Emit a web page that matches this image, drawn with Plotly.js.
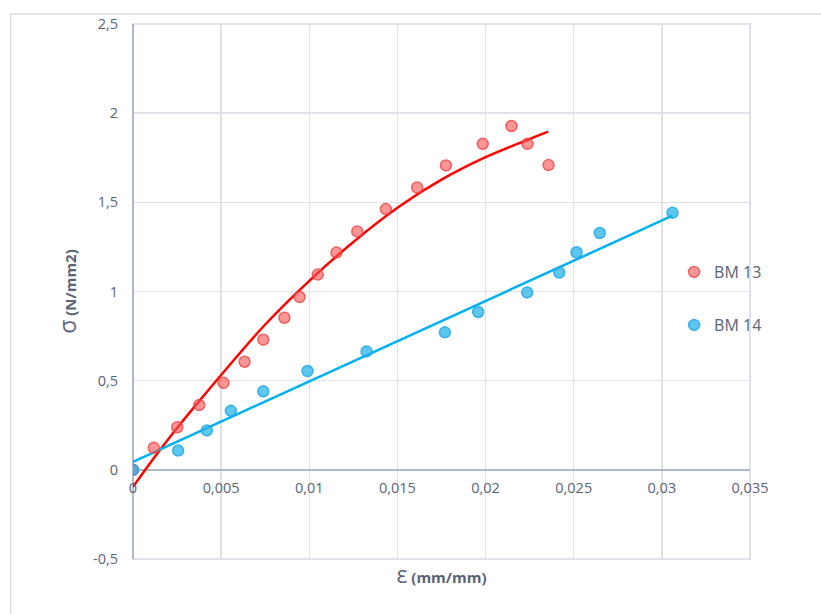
<!DOCTYPE html>
<html>
<head>
<meta charset="utf-8">
<script src="https://cdn.plot.ly/plotly-3.0.1.min.js"></script>
<style>html,body{margin:0;padding:0;background:#fff}#chart{width:821px;height:614px}</style>
</head>
<body>
<div id="chart"></div>
<script>
// BM 13 measured points
const bm13X = [0, 0.00118, 0.00251, 0.00376, 0.00513, 0.00633, 0.00739, 0.00859, 0.00945, 0.01048, 0.01154, 0.01272, 0.01434, 0.01612, 0.01775, 0.01984, 0.02147, 0.02238, 0.02357];
const bm13Y = [0, 0.124, 0.239, 0.363, 0.488, 0.606, 0.730, 0.853, 0.969, 1.095, 1.218, 1.337, 1.462, 1.583, 1.707, 1.828, 1.928, 1.828, 1.709];
// BM 14 measured points
const bm14X = [0, 0.00256, 0.00419, 0.00555, 0.00739, 0.00990, 0.01325, 0.01769, 0.01958, 0.02236, 0.02418, 0.02516, 0.02648, 0.03060];
const bm14Y = [0, 0.108, 0.221, 0.331, 0.440, 0.554, 0.664, 0.771, 0.885, 0.995, 1.106, 1.220, 1.328, 1.441];
// BM 13 trend curve
const trend13X = [0, 0.00125, 0.0025, 0.00375, 0.005, 0.0075, 0.01, 0.0125, 0.015, 0.0175, 0.02, 0.0225, 0.02355];
const trend13Y = [-0.095, 0.075, 0.235, 0.385, 0.532, 0.815, 1.06, 1.278, 1.47, 1.627, 1.753, 1.855, 1.896];
// BM 14 trend line
const trend14X = [0, 0.0306];
const trend14Y = [0.045, 1.425];
// tick labels
const xTickVals = [0, 0.005, 0.01, 0.015, 0.02, 0.025, 0.03, 0.035];
const xTickText = ["0", "0,005", "0,01", "0,015", "0,02", "0,025", "0,03", "0,035"];
const yTickVals = [-0.5, 0, 0.5, 1, 1.5, 2, 2.5];
const yTickText = ["-0,5", "0", "0,5", "1", "1,5", "2", "2,5"];

const labelColor = '#5a6478';
const gridColor = '#dfe3e9';
const axisColor = '#b0b9c8';

const traces = [
  {x: trend13X, y: trend13Y, mode: 'lines', line: {color: '#ff0000', width: 2.5, shape: 'spline', smoothing: 1}, showlegend: false, hoverinfo: 'skip'},
  {x: trend14X, y: trend14Y, mode: 'lines', line: {color: '#00b0f0', width: 2.5}, showlegend: false, hoverinfo: 'skip'},
  {x: bm13X, y: bm13Y, mode: 'markers', name: 'BM 13', legend: 'legend',
   marker: {size: 11, color: 'rgba(255,80,80,0.6)', line: {color: 'rgba(235,70,70,0.8)', width: 1.5}}},
  {x: bm14X, y: bm14Y, mode: 'markers', name: 'BM 14', legend: 'legend2',
   marker: {size: 11, color: 'rgba(40,180,235,0.75)', line: {color: 'rgba(30,165,225,0.8)', width: 1.5}}}
];

const layout = {
  width: 821, height: 614,
  margin: {l: 132.5, r: 71, t: 24, b: 55},
  paper_bgcolor: '#ffffff', plot_bgcolor: '#ffffff',
  font: {family: '"Open Sans", "Noto Sans", sans-serif', color: labelColor, size: 14},
  xaxis: {
    range: [0, 0.035], tickvals: xTickVals, ticktext: xTickText,
    anchor: 'free', position: 0.1677,
    showgrid: true, gridcolor: gridColor, gridwidth: 1.5,
    zeroline: true, zerolinecolor: axisColor, zerolinewidth: 1.5,
    showline: false, ticks: 'outside', ticklen: 5, tickcolor: 'rgba(0,0,0,0)',
    tickfont: {size: 14.5, color: labelColor},
    title: {text: '<span style="font-size:23px">ε</span> <b>(mm/mm)</b>', font: {size: 15, color: labelColor}, standoff: 76}
  },
  yaxis: {
    range: [-0.5, 2.5], tickvals: yTickVals, ticktext: yTickText,
    showgrid: true, gridcolor: gridColor, gridwidth: 1.5,
    zeroline: true, zerolinecolor: axisColor, zerolinewidth: 1.5,
    showline: false, ticks: 'outside', ticklen: 11, tickcolor: 'rgba(0,0,0,0)',
    tickfont: {size: 14.5, color: labelColor},
    title: {text: '<span style="font-size:23px">σ</span> <b>(N/mm2)</b>', font: {size: 15, color: labelColor}, standoff: 12}
  },
  legend: {x: 0.877, y: 0.5364, xanchor: 'left', yanchor: 'middle', bgcolor: 'rgba(0,0,0,0)', font: {size: 16, color: labelColor}},
  legend2: {x: 0.877, y: 0.4374, xanchor: 'left', yanchor: 'middle', bgcolor: 'rgba(0,0,0,0)', font: {size: 16, color: labelColor}},
  shapes: [
    {type: 'rect', xref: 'paper', yref: 'paper', x0: -0.1984, x1: 1.4, y0: -0.4, y1: 1.0187,
     line: {color: '#dcdfe4', width: 1.5}, fillcolor: 'rgba(0,0,0,0)', layer: 'below'},
    {type: 'rect', xref: 'paper', yref: 'paper', x0: 0, x1: 1, y0: 0, y1: 1,
     line: {color: gridColor, width: 2}, fillcolor: 'rgba(0,0,0,0)', layer: 'below'}
  ]
};

Plotly.newPlot('chart', traces, layout, {displayModeBar: false, staticPlot: true});
</script>
</body>
</html>
